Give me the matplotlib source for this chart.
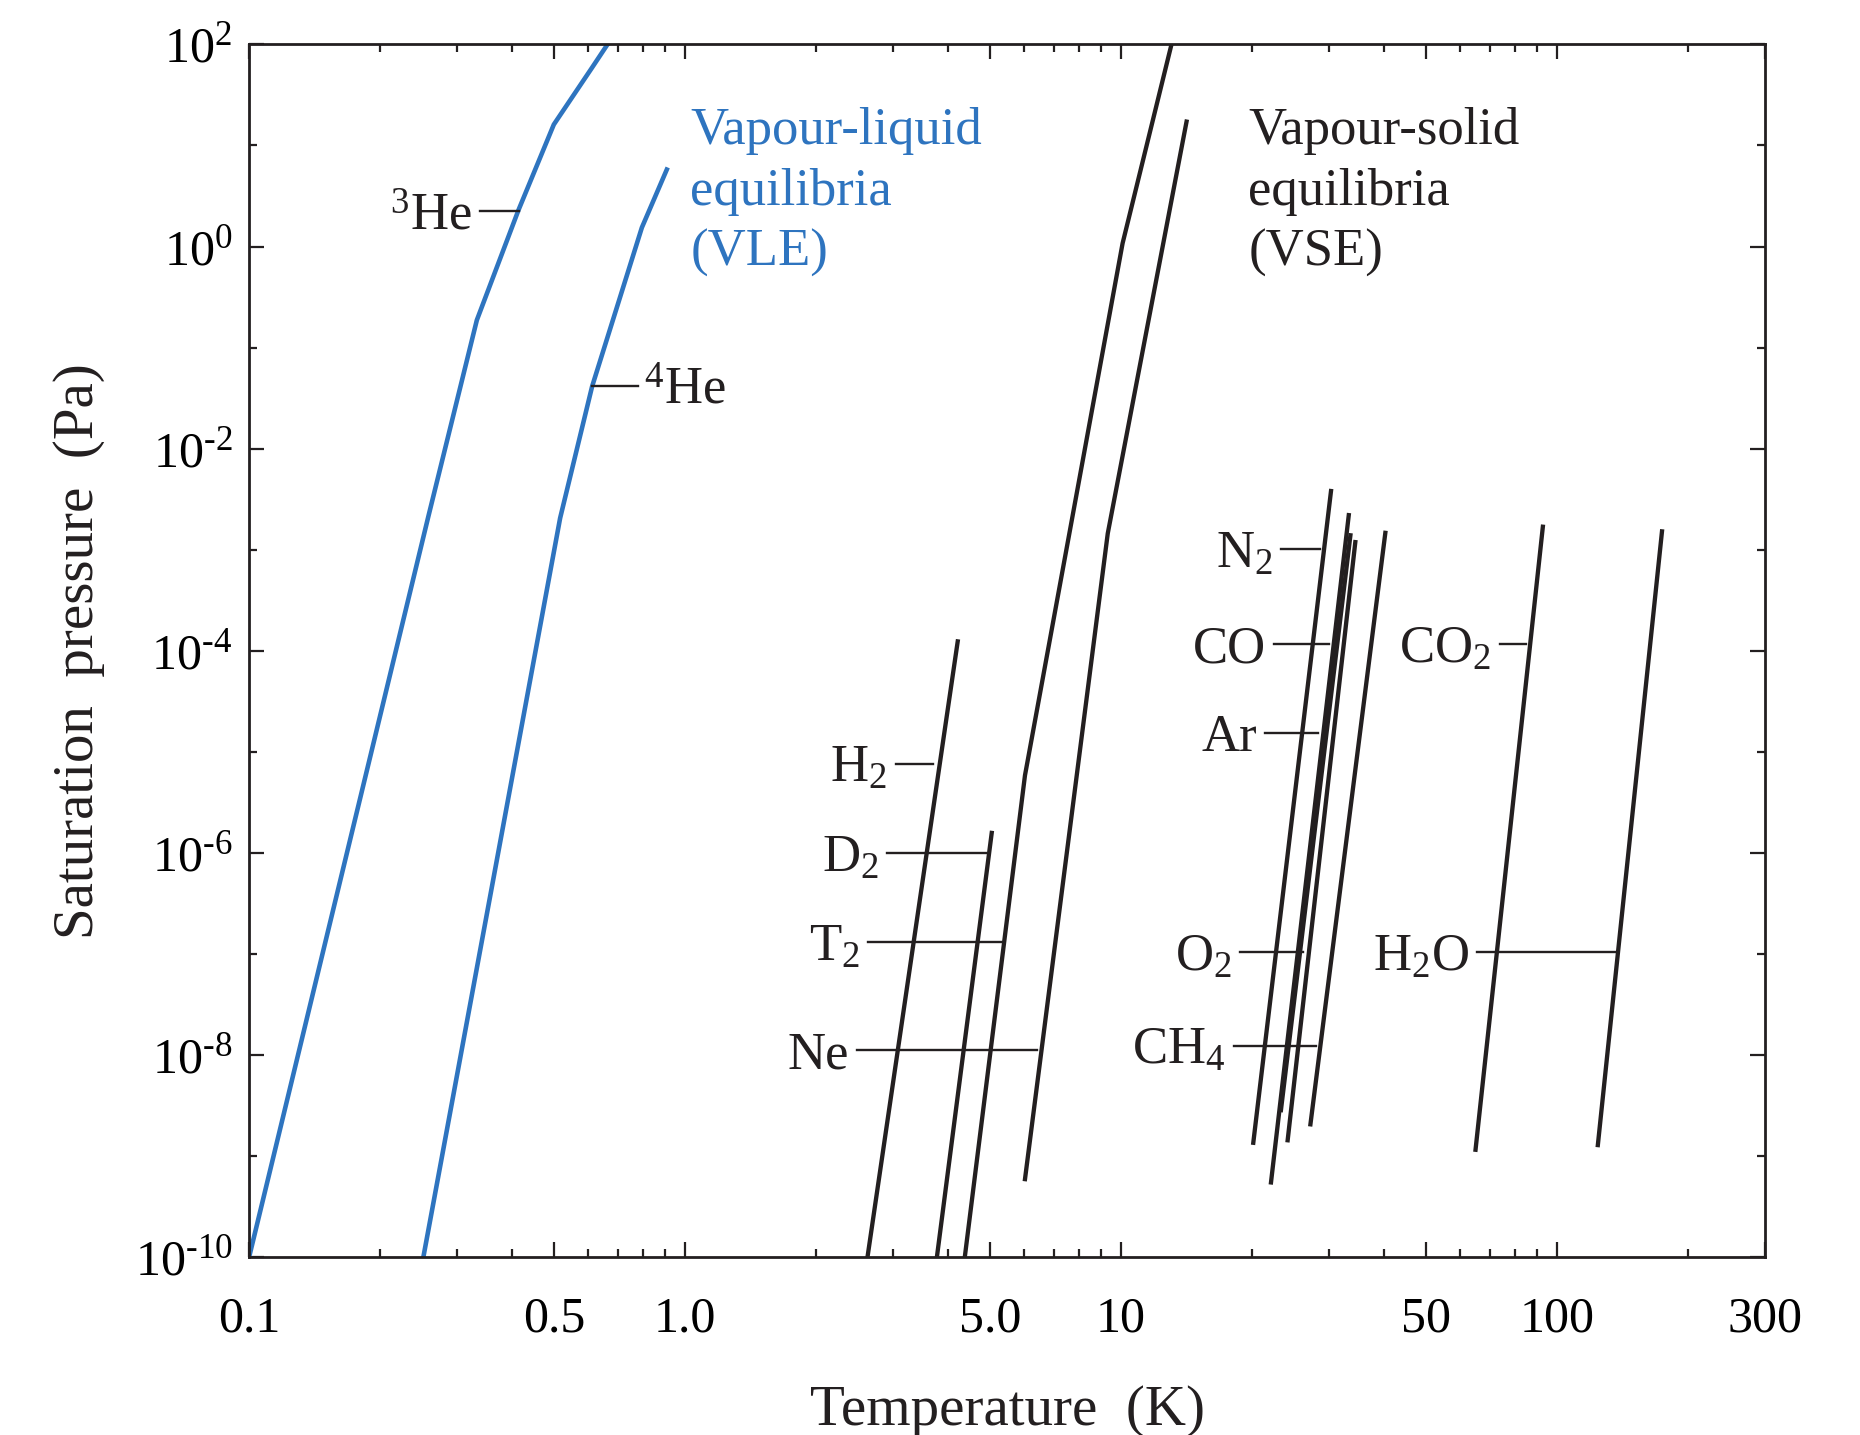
import matplotlib
matplotlib.use('Agg')
import matplotlib.pyplot as plt
from matplotlib.ticker import FixedLocator, FixedFormatter, NullFormatter

plt.rcParams['font.family'] = ['Liberation Serif', 'DejaVu Serif']
plt.rcParams['mathtext.fontset'] = 'custom'
plt.rcParams['mathtext.rm'] = 'Liberation Serif'
plt.rcParams['mathtext.it'] = 'Liberation Serif:italic'
plt.rcParams['mathtext.bf'] = 'Liberation Serif:bold'

BLUE = '#2e74bf'
BLACK = '#231f20'

# saturation curves: temperature in K, pressure in Pa
# vapour-liquid (helium isotopes)
he3_T = [0.10, 0.258, 0.333, 0.415, 0.500, 0.612, 0.664]
he3_P = [1e-10, 2.17e-3, 0.187, 2.30, 16.1, 58.9, 100.0]

he4_T = [0.251, 0.517, 0.612, 0.796, 0.908]
he4_P = [1e-10, 2.06e-3, 4.12e-2, 1.54, 5.77]

# vapour-solid
h2_T = [2.62, 4.22]
h2_P = [1e-10, 1.24e-4]

d2_T = [3.78, 5.05]
d2_P = [1e-10, 1.58e-6]

t2_T = [4.38, 6.02, 10.08, 13.05]
t2_P = [1e-10, 5.87e-6, 1.076, 100.0]

ne_T = [6.02, 9.32, 14.13]
ne_P = [5.94e-10, 1.45e-3, 17.2]

n2_T = [20.1, 30.3]
n2_P = [1.36e-9, 3.81e-3]

co_T = [22.07, 33.28]
co_P = [5.51e-10, 2.20e-3]

ar_T = [23.26, 33.57]
ar_P = [2.86e-9, 1.39e-3]

o2_T = [24.1, 34.45]
o2_P = [1.44e-9, 1.19e-3]

ch4_T = [27.18, 40.37]
ch4_P = [2.07e-9, 1.47e-3]

co2_T = [65.0, 92.75]
co2_P = [1.16e-9, 1.69e-3]

h2o_T = [124.0, 174.0]
h2o_P = [1.29e-9, 1.52e-3]

x_ticks = [0.1, 0.5, 1, 5, 10, 50, 100, 300]
x_ticklabels = ['0.1', '0.5', '1.0', '5.0', '10', '50', '100', '300']
y_exponents = [-10, -8, -6, -4, -2, 0, 2]

fig = plt.figure(figsize=(18.6, 14.35), dpi=100)
ax = fig.add_axes([0.1339, 0.1238, 0.8151, 0.8453])

for T, P in [(he3_T, he3_P), (he4_T, he4_P)]:
    ax.plot(T, P, color=BLUE, lw=3.3, solid_joinstyle='miter')

for T, P in [(h2_T, h2_P), (d2_T, d2_P), (t2_T, t2_P), (ne_T, ne_P),
             (n2_T, n2_P), (co_T, co_P), (ar_T, ar_P), (o2_T, o2_P),
             (ch4_T, ch4_P), (co2_T, co2_P), (h2o_T, h2o_P)]:
    ax.plot(T, P, color=BLACK, lw=3.1, solid_joinstyle='miter')

# name, leader start T, leader end T, leader pressure, text side
leaders = [
    (r'${}^{3}$He', 0.339, 0.415, 2.24, 'left'),
    (r'${}^{4}$He', 0.612, 0.781, 4.17e-2, 'right'),
    (r'H$_2$', 3.04, 3.71, 7.64e-6, 'left'),
    (r'D$_2$', 2.91, 4.89, 1.0e-6, 'left'),
    (r'T$_2$', 2.63, 5.36, 1.32e-7, 'left'),
    ('Ne', 2.48, 6.43, 1.12e-8, 'left'),
    (r'N$_2$', 23.26, 28.59, 1.01e-3, 'left'),
    ('CO', 22.46, 30.04, 1.18e-4, 'left'),
    ('Ar', 21.41, 28.25, 1.54e-5, 'left'),
    (r'O$_2$', 18.77, 26.18, 1.05e-7, 'left'),
    (r'CH$_4$', 18.11, 27.99, 1.24e-8, 'left'),
    (r'CO$_2$', 73.8, 84.97, 1.17e-4, 'left'),
    (r'H$_2$O', 65.56, 135.5, 1.04e-7, 'left'),
]
for name, t0, t1, p, side in leaders:
    ax.plot([t0, t1], [p, p], color=BLACK, lw=1.7)
    if side == 'left':
        ax.annotate(name, xy=(t0, p), xytext=(-6, 0), textcoords='offset points',
                    ha='right', va='center_baseline', fontsize=38, color=BLACK)
    else:
        ax.annotate(name, xy=(t1, p), xytext=(4, 0), textcoords='offset points',
                    ha='left', va='center_baseline', fontsize=38, color=BLACK)

ax.text(0.291, 0.948, 'Vapour-liquid\nequilibria\n(VLE)', transform=ax.transAxes,
        ha='left', va='top', fontsize=38, color=BLUE, linespacing=1.34)
ax.text(0.659, 0.948, 'Vapour-solid\nequilibria\n(VSE)', transform=ax.transAxes,
        ha='left', va='top', fontsize=38, color=BLACK, linespacing=1.34)

ax.set_xscale('log')
ax.set_yscale('log')
ax.set_xlim(0.1, 300)
ax.set_ylim(1e-10, 1e2)

ax.xaxis.set_major_locator(FixedLocator(x_ticks))
ax.xaxis.set_major_formatter(FixedFormatter(x_ticklabels))
ax.xaxis.set_minor_locator(FixedLocator(
    [0.2, 0.3, 0.4, 0.6, 0.7, 0.8, 0.9, 2, 3, 4, 6, 7, 8, 9,
     20, 30, 40, 60, 70, 80, 90, 200]))
ax.xaxis.set_minor_formatter(NullFormatter())

# exponents written with a plain hyphen
y_ticklabels = [r'10$^{\text{-}%d}$' % -e if e < 0 else r'10$^{%d}$' % e
                for e in y_exponents]
ax.yaxis.set_major_locator(FixedLocator([10.0 ** e for e in y_exponents]))
ax.yaxis.set_major_formatter(FixedFormatter(y_ticklabels))
ax.yaxis.set_minor_locator(FixedLocator([10.0 ** e for e in range(-9, 2, 2)]))
ax.yaxis.set_minor_formatter(NullFormatter())

ax.tick_params(which='both', direction='in', top=True, right=True,
               color=BLACK, width=1.6)
ax.tick_params(which='major', length=11)
ax.tick_params(which='minor', length=5.5)
ax.tick_params(axis='x', which='major', labelsize=36, pad=28)
ax.tick_params(axis='y', which='major', labelsize=36, pad=12)

for s in ax.spines.values():
    s.set_linewidth(2.0)
    s.set_color(BLACK)

ax.set_xlabel('Temperature  (K)', fontsize=41, color=BLACK)
ax.set_ylabel('Saturation  pressure  (Pa)', fontsize=41, color=BLACK)
ax.xaxis.set_label_coords(0.5, -0.105)
ax.yaxis.set_label_coords(-0.095, 0.5)

fig.savefig('out.png', dpi=100)
